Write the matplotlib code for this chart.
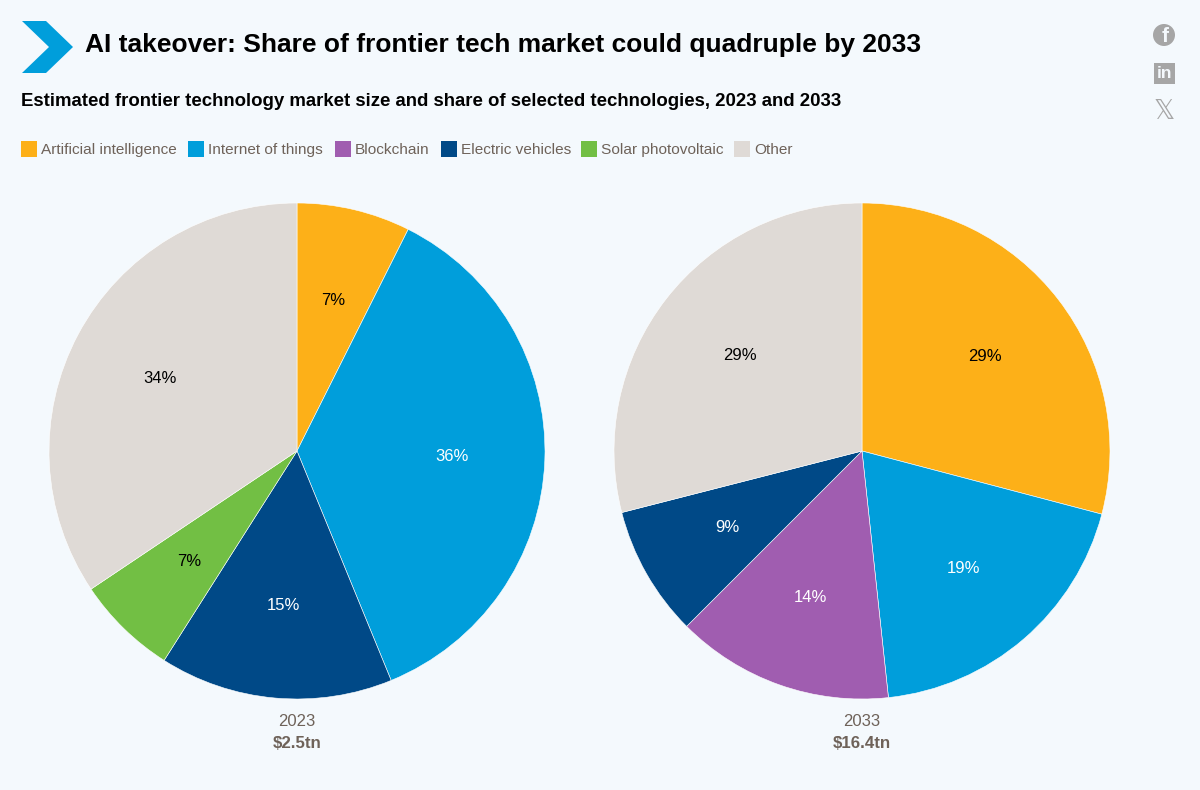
#!/usr/bin/env python

import matplotlib
matplotlib.use("Agg")
import matplotlib.pyplot as plt
from matplotlib.patches import Polygon, Rectangle, Circle

categories = ["Artificial intelligence", "Internet of things", "Blockchain",
              "Electric vehicles", "Solar photovoltaic", "Other"]
colors = ["#FDB018", "#009EDB", "#A05DB0", "#004987", "#72BF44", "#DFDAD6"]
label_colors = ["black", "white", "white", "white", "black", "black"]

years = ["2023", "2033"]
totals = ["$2.5tn", "$16.4tn"]
share_2023 = [7.4, 36.4, 0, 15.2, 6.6, 34.4]
share_2033 = [29.1, 19.2, 14.2, 8.51, 0, 28.99]

title = "AI takeover: Share of frontier tech market could quadruple by 2033"
subtitle = "Estimated frontier technology market size and share of selected technologies, 2023 and 2033"

W, H = 1200, 790
BG = "#F4F9FD"
BROWN = "#6E6259"
ICON = "#A6A6A6"

plt.rcParams["font.family"] = ["Liberation Sans", "DejaVu Sans"]

fig = plt.figure(figsize=(W/100, H/100), dpi=100, facecolor=BG)

# overlay in pixel coordinates for the header stuff
bg = fig.add_axes([0, 0, 1, 1])
bg.set_xlim(0, W)
bg.set_ylim(H, 0)
bg.axis("off")

bg.add_patch(Polygon([(22, 21), (46, 21), (73, 47), (46, 73), (22, 73), (49, 47)],
                     closed=True, fc="#009EDB", ec="none"))
bg.text(85, 45, title, fontsize=18.97, fontweight="bold", color="black", va="center")
bg.text(21, 102, subtitle, fontsize=13.44, fontweight="bold", color="black", va="center")

# legend
legend_x = [21, 188, 335, 441, 581, 734]
for x, name, c in zip(legend_x, categories, colors):
    bg.add_patch(Rectangle((x, 141), 16, 16, fc=c, ec="none"))
    bg.text(x + 20, 154, name, fontsize=11.05, color=BROWN, va="baseline")

# social icons
bg.add_patch(Circle((1164, 35), 11, fc=ICON, ec="none"))
bg.text(1165, 37, "f", fontsize=15, fontweight="bold", color=BG, ha="center", va="center")
bg.add_patch(Rectangle((1154, 63), 21, 21, fc=ICON, ec="none"))
bg.text(1164.5, 74, "in", fontsize=12.5, fontweight="bold", color=BG, ha="center", va="center")
bg.text(1164, 112, "\U0001D54F", fontsize=19, color=ICON, ha="center", va="center",
        family=["DejaVu Sans"])


def draw_pie(cx, cy, r, values):
    ax = fig.add_axes([(cx - r)/W, 1 - (cy + r)/H, 2*r/W, 2*r/H])
    keep = [i for i, v in enumerate(values) if v > 0]
    wedges, texts, autotexts = ax.pie(
        [values[i] for i in keep],
        colors=[colors[i] for i in keep],
        startangle=90, counterclock=False, radius=1.0,
        autopct="%.0f%%", pctdistance=0.625,
        wedgeprops=dict(edgecolor="white", linewidth=0.4),
        textprops=dict(fontsize=12))
    for t, i in zip(autotexts, keep):
        t.set_color(label_colors[i])
    ax.set_xlim(-1, 1)
    ax.set_ylim(-1, 1)


draw_pie(297, 451, 248, share_2023)
draw_pie(862, 451, 248, share_2033)

for cx, year, total in zip([297, 862], years, totals):
    bg.text(cx, 721, year, fontsize=12, color=BROWN, ha="center", va="center")
    bg.text(cx, 743, total, fontsize=12.2, fontweight="bold", color=BROWN, ha="center", va="center")

fig.savefig("out.png", dpi=100, facecolor=BG)
